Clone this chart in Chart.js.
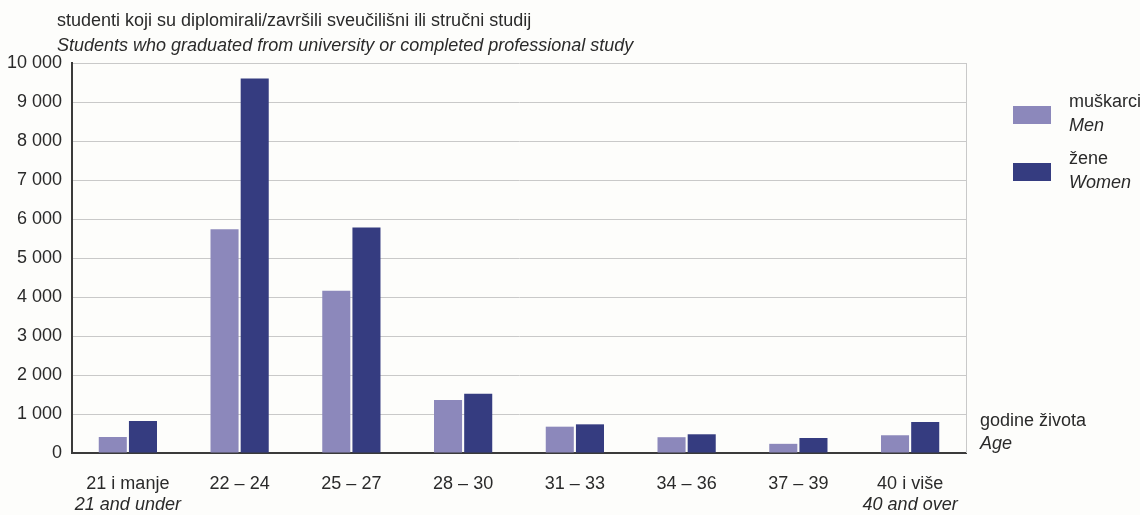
<!DOCTYPE html>
<html lang="hr">
<head>
<meta charset="UTF-8" />
<title>Studenti koji su diplomirali po dobi</title>
<script src="https://cdn.jsdelivr.net/npm/chart.js"></script>
<style>
   body {
      margin: 0;
      background: #fdfdfb;
   }
   #wrap {
      position: relative;
      width: 1140px;
      height: 515px;
   }
</style>
</head>
<body>
<div id="wrap"><canvas id="chart"></canvas></div>
<script>
   // data
   const ageGroups = ['21 i manje', '22 – 24', '25 – 27', '28 – 30', '31 – 33', '34 – 36', '37 – 39', '40 i više'];
   const ageGroupsEn = ['21 and under', '', '', '', '', '', '', '40 and over'];
   const men = [410, 5740, 4160, 1360, 675, 405, 235, 455];
   const women = [820, 9600, 5780, 1520, 735, 480, 385, 795];
   const seriesHr = ['muškarci', 'žene'];
   const seriesEn = ['Men', 'Women'];
   const yMax = 10000;
   const yStep = 1000;

   const titleHr = 'studenti koji su diplomirali/završili sveučilišni ili stručni studij';
   const titleEn = 'Students who graduated from university or completed professional study';
   const unitHr = 'godine života';
   const unitEn = 'Age';

   const FONT = '"Liberation Sans", Arial, sans-serif';
   const SIZE = 18;
   const TEXT = '#2a2a2a';
   const GRID = '#c9c9c9';
   const AXIS = '#3a3a3a';

   function spaced(v) {
      return String(v).replace(/\B(?=(\d{3})+(?!\d))/g, ' ');
   }

   // right frame line, titles, legend, unit label and english sub-labels
   const extraText = {
      id: 'extraText',
      beforeDatasetsDraw(chart) {
         const { ctx, chartArea } = chart;
         ctx.save();
         ctx.strokeStyle = GRID;
         ctx.lineWidth = 1;
         ctx.beginPath();
         ctx.moveTo(chartArea.right + 0.5, chartArea.top);
         ctx.lineTo(chartArea.right + 0.5, chartArea.bottom);
         ctx.stroke();
         ctx.restore();
      },
      afterDraw(chart) {
         const { ctx, chartArea } = chart;
         const xs = chart.scales.x;
         ctx.save();
         ctx.fillStyle = TEXT;
         ctx.textBaseline = 'middle';
         ctx.textAlign = 'left';

         ctx.font = SIZE + 'px ' + FONT;
         ctx.fillText(titleHr, chartArea.left - 15, 21);
         ctx.font = 'italic ' + SIZE + 'px ' + FONT;
         ctx.fillText(titleEn, chartArea.left - 15, 46);

         ctx.textAlign = 'center';
         ageGroupsEn.forEach((t, i) => {
            if (t) ctx.fillText(t, xs.getPixelForValue(i), chartArea.bottom + 52);
         });

         ctx.textAlign = 'left';
         ctx.font = SIZE + 'px ' + FONT;
         ctx.fillText(unitHr, chartArea.right + 14, chartArea.bottom - 32);
         ctx.font = 'italic ' + SIZE + 'px ' + FONT;
         ctx.fillText(unitEn, chartArea.right + 14, chartArea.bottom - 9);

         chart.data.datasets.forEach((ds, i) => {
            const y = 115 + i * 57;
            ctx.fillStyle = ds.backgroundColor;
            ctx.fillRect(chartArea.right + 47, y - 9, 38, 18);
            ctx.fillStyle = TEXT;
            ctx.font = SIZE + 'px ' + FONT;
            ctx.fillText(seriesHr[i], chartArea.right + 103, y - 13);
            ctx.font = 'italic ' + SIZE + 'px ' + FONT;
            ctx.fillText(seriesEn[i], chartArea.right + 103, y + 11);
         });
         ctx.restore();
      },
   };

   new Chart(document.getElementById('chart'), {
      type: 'bar',
      data: {
         labels: ageGroups,
         datasets: [
            { label: seriesHr[0], data: men, backgroundColor: '#8c88bb' },
            { label: seriesHr[1], data: women, backgroundColor: '#353c80' },
         ],
      },
      options: {
         responsive: true,
         maintainAspectRatio: false,
         animation: false,
         categoryPercentage: 0.54,
         barPercentage: 0.93,
         layout: { padding: { top: 63, right: 174, left: 0, bottom: 0 } },
         plugins: {
            legend: { display: false },
            tooltip: { enabled: false },
         },
         scales: {
            x: {
               grid: { display: false },
               border: { color: AXIS, width: 2 },
               ticks: { color: TEXT, padding: 12, font: { family: FONT, size: SIZE } },
               afterFit(scale) {
                  scale.height = 62;
               },
            },
            y: {
               min: 0,
               max: yMax,
               grid: { color: GRID, lineWidth: 1, drawTicks: false },
               border: { color: AXIS, width: 2 },
               ticks: {
                  stepSize: yStep,
                  color: TEXT,
                  padding: 10,
                  font: { family: FONT, size: SIZE },
                  callback: (v) => spaced(v),
               },
               afterFit(scale) {
                  scale.width = 72;
               },
            },
         },
      },
      plugins: [extraText],
   });
</script>
</body>
</html>
